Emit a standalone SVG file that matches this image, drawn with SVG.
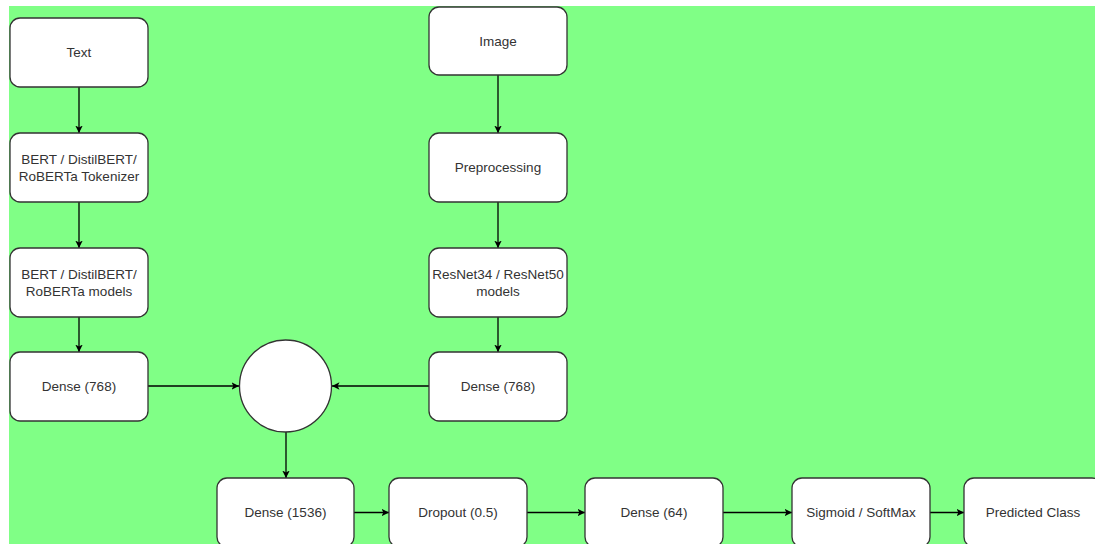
<svg xmlns="http://www.w3.org/2000/svg" width="1095" height="544" viewBox="0 0 1095 544">
<style>
.box{fill:#ffffff;stroke:#333333;stroke-width:1.3}
.lbl{font-family:"Liberation Sans",Arial,sans-serif;font-size:13.5px;fill:#333333;text-anchor:middle;dominant-baseline:central}
.edge{stroke:#000000;stroke-width:1.3;fill:none;marker-end:url(#arr)}
</style>
<defs>
<marker id="arr" viewBox="0 0 10 10" refX="10" refY="5" markerWidth="7.5" markerHeight="7.5" markerUnits="userSpaceOnUse" orient="auto">
<path d="M0,0 L10,5 L0,10 L2.5,5 Z" fill="#000000"/>
</marker>
</defs>
<rect x="0" y="0" width="1095" height="544" fill="#ffffff"/>
<rect x="9" y="6" width="1086" height="538" fill="#80ff86"/>
<g id="connectors">
<path class="edge" d="M79,87 V133"/>
<path class="edge" d="M79,202 V248"/>
<path class="edge" d="M79,317 V352"/>
<path class="edge" d="M498,75 V133"/>
<path class="edge" d="M498,202 V248"/>
<path class="edge" d="M498,317 V352"/>
<path class="edge" d="M148,386 H239"/>
<path class="edge" d="M429,386 H332"/>
<path class="edge" d="M286,432 V478"/>
<path class="edge" d="M354,512.5 H389"/>
<path class="edge" d="M527,512.5 H585"/>
<path class="edge" d="M723,512.5 H792"/>
<path class="edge" d="M930,512.5 H964"/>
</g>
<g id="text"><rect class="box" x="10" y="18" width="138" height="69" rx="10"/><text class="lbl" x="79" y="52.5">Text</text></g>
<g id="tokenizer"><rect class="box" x="10" y="133" width="138" height="69" rx="10"/><text class="lbl" x="79" y="159">BERT / DistilBERT/</text><text class="lbl" x="79" y="176">RoBERTa Tokenizer</text></g>
<g id="bertmodels"><rect class="box" x="10" y="248" width="138" height="69" rx="10"/><text class="lbl" x="79" y="274">BERT / DistilBERT/</text><text class="lbl" x="79" y="291">RoBERTa models</text></g>
<g id="dense768a"><rect class="box" x="10" y="352" width="138" height="69" rx="10"/><text class="lbl" x="79" y="386.5">Dense (768)</text></g>
<g id="image"><rect class="box" x="429" y="7" width="138" height="68" rx="10"/><text class="lbl" x="498" y="41">Image</text></g>
<g id="preprocessing"><rect class="box" x="429" y="133" width="138" height="69" rx="10"/><text class="lbl" x="498" y="167.5">Preprocessing</text></g>
<g id="resnet"><rect class="box" x="429" y="248" width="138" height="69" rx="10"/><text class="lbl" x="498" y="274">ResNet34 / ResNet50</text><text class="lbl" x="498" y="291">models</text></g>
<g id="dense768b"><rect class="box" x="429" y="352" width="138" height="69" rx="10"/><text class="lbl" x="498" y="386.5">Dense (768)</text></g>
<g id="concat"><circle class="box" cx="285.5" cy="386" r="46"/></g>
<g id="dense1536"><rect class="box" x="217" y="478" width="137" height="69" rx="10"/><text class="lbl" x="285.5" y="512.5">Dense (1536)</text></g>
<g id="dropout"><rect class="box" x="389" y="478" width="138" height="69" rx="10"/><text class="lbl" x="458" y="512.5">Dropout (0.5)</text></g>
<g id="dense64"><rect class="box" x="585" y="478" width="138" height="69" rx="10"/><text class="lbl" x="654" y="512.5">Dense (64)</text></g>
<g id="sigmoid"><rect class="box" x="792" y="478" width="138" height="69" rx="10"/><text class="lbl" x="861" y="512.5">Sigmoid / SoftMax</text></g>
<g id="predicted"><rect class="box" x="964" y="478" width="138" height="69" rx="10"/><text class="lbl" x="1033" y="512.5">Predicted Class</text></g>
</svg>
